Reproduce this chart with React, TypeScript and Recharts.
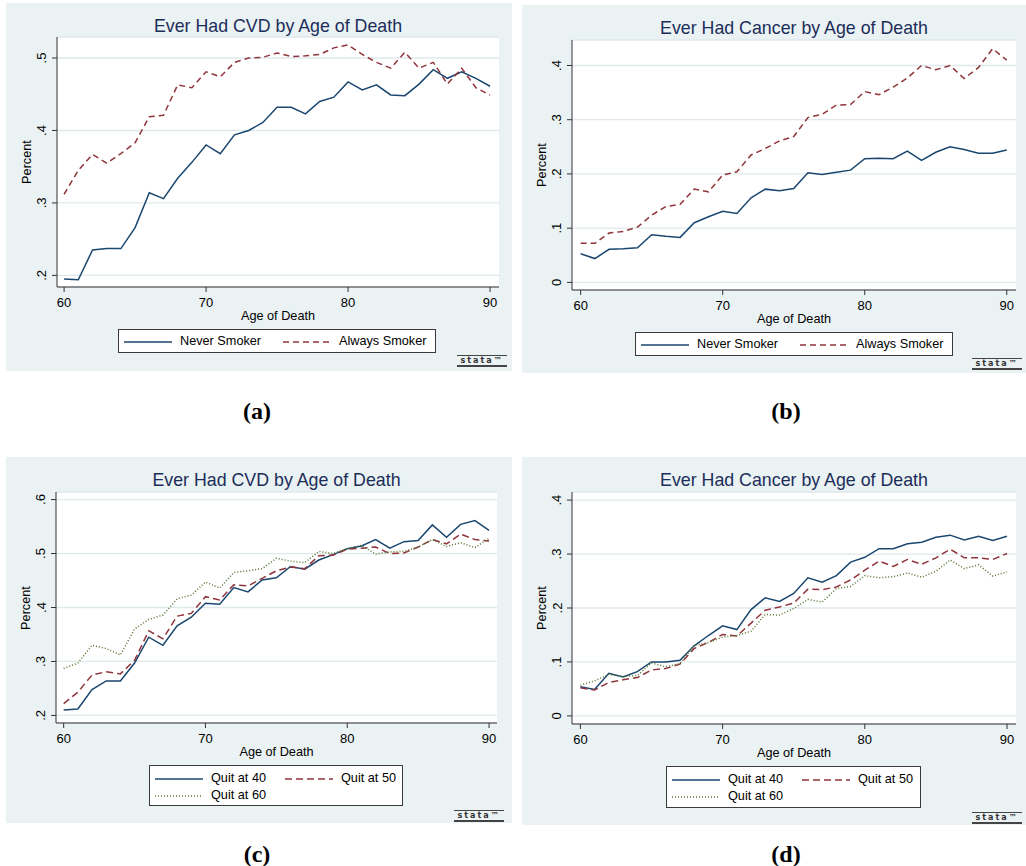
import React from 'react';
import { LineChart, Line, XAxis, YAxis, CartesianGrid } from 'recharts';

const ages = [60, 61, 62, 63, 64, 65, 66, 67, 68, 69, 70, 71, 72, 73, 74, 75, 76, 77, 78, 79, 80, 81, 82, 83, 84, 85, 86, 87, 88, 89, 90];

// (a) CVD, never vs always smoker
const cvdNever = [0.195, 0.194, 0.235, 0.237, 0.237, 0.266, 0.314, 0.306, 0.334, 0.356, 0.380, 0.368, 0.394, 0.400, 0.411, 0.432, 0.432, 0.423, 0.440, 0.446, 0.467, 0.456, 0.463, 0.449, 0.448, 0.464, 0.484, 0.472, 0.481, 0.472, 0.461];
const cvdAlways = [0.312, 0.345, 0.367, 0.355, 0.368, 0.383, 0.419, 0.421, 0.463, 0.459, 0.481, 0.474, 0.494, 0.500, 0.501, 0.507, 0.502, 0.503, 0.505, 0.514, 0.518, 0.505, 0.494, 0.486, 0.508, 0.486, 0.494, 0.464, 0.486, 0.459, 0.449];

// (b) cancer, never vs always smoker
const cancerNever = [0.053, 0.044, 0.061, 0.062, 0.064, 0.088, 0.085, 0.083, 0.110, 0.121, 0.131, 0.127, 0.156, 0.172, 0.169, 0.173, 0.202, 0.199, 0.203, 0.207, 0.228, 0.229, 0.228, 0.242, 0.225, 0.240, 0.250, 0.245, 0.238, 0.238, 0.244];
const cancerAlways = [0.072, 0.072, 0.091, 0.094, 0.102, 0.124, 0.140, 0.144, 0.172, 0.167, 0.198, 0.204, 0.235, 0.247, 0.261, 0.269, 0.304, 0.310, 0.327, 0.328, 0.352, 0.346, 0.360, 0.377, 0.400, 0.392, 0.400, 0.376, 0.396, 0.431, 0.410];

// (c) CVD by quit age
const cvdQuit40 = [0.210, 0.212, 0.248, 0.264, 0.264, 0.297, 0.345, 0.330, 0.366, 0.382, 0.408, 0.406, 0.437, 0.429, 0.451, 0.455, 0.476, 0.471, 0.488, 0.498, 0.509, 0.514, 0.526, 0.510, 0.522, 0.524, 0.553, 0.530, 0.554, 0.561, 0.543];
const cvdQuit50 = [0.222, 0.243, 0.275, 0.281, 0.277, 0.302, 0.357, 0.342, 0.384, 0.389, 0.420, 0.414, 0.442, 0.440, 0.454, 0.468, 0.475, 0.472, 0.496, 0.497, 0.508, 0.510, 0.512, 0.500, 0.501, 0.512, 0.526, 0.518, 0.536, 0.526, 0.523];
const cvdQuit60 = [0.287, 0.297, 0.330, 0.324, 0.312, 0.360, 0.378, 0.386, 0.416, 0.423, 0.447, 0.436, 0.465, 0.468, 0.472, 0.491, 0.486, 0.483, 0.504, 0.500, 0.509, 0.515, 0.499, 0.503, 0.504, 0.512, 0.526, 0.513, 0.520, 0.511, 0.528];

// (d) cancer by quit age
const cancerQuit40 = [0.054, 0.049, 0.079, 0.072, 0.082, 0.100, 0.100, 0.103, 0.130, 0.149, 0.167, 0.160, 0.197, 0.219, 0.212, 0.227, 0.256, 0.248, 0.260, 0.285, 0.294, 0.310, 0.310, 0.319, 0.322, 0.331, 0.335, 0.326, 0.333, 0.325, 0.333];
const cancerQuit50 = [0.052, 0.048, 0.062, 0.067, 0.071, 0.085, 0.088, 0.096, 0.125, 0.136, 0.151, 0.148, 0.172, 0.196, 0.202, 0.209, 0.235, 0.234, 0.239, 0.252, 0.270, 0.287, 0.277, 0.290, 0.281, 0.293, 0.309, 0.293, 0.293, 0.290, 0.301];
const cancerQuit60 = [0.057, 0.065, 0.077, 0.073, 0.075, 0.098, 0.091, 0.097, 0.131, 0.136, 0.146, 0.149, 0.157, 0.188, 0.187, 0.199, 0.216, 0.211, 0.236, 0.240, 0.260, 0.256, 0.258, 0.265, 0.257, 0.268, 0.289, 0.273, 0.280, 0.259, 0.267];

const ageTicks = [60, 70, 80, 90];
const cvdTicks = [0.2, 0.3, 0.4, 0.5];
const cancerTicks = [0, 0.1, 0.2, 0.3, 0.4];
const cvdQuitTicks = [0.2, 0.3, 0.4, 0.5, 0.6];

const NAVY = '#1a476f';
const MAROON = '#90353b';
const GREEN = '#55752f';
const BG = '#eaf2f3';
const FONT = 'Arial, "Liberation Sans", sans-serif';

const stataNum = (v: number) => (v === 0 ? '0' : String(v).replace(/^0/, ''));

function YTick(props: any) {
  const { x, y, payload } = props;
  const cx = x - 8;
  return (
    <text x={cx} y={y} transform={`rotate(-90 ${cx} ${y})`} textAnchor="middle" dominantBaseline="central"
      fontSize={13} fontFamily={FONT} fill="#000">
      {stataNum(payload.value)}
    </text>
  );
}

interface Series { key: string; name: string; values: number[]; color: string; dash?: string; }

interface PanelProps {
  left: number; top: number; width: number; height: number;
  title: string;
  series: Series[];
  yTicks: number[];
  xDomain: [number, number];
  yDomain: [number, number];
  plot: { l: number; r: number; t: number; b: number };
  legend: { left: number; top: number; width: number; height: number; col2: number; rows: number[] };
  logo: { left: number; top: number };
}

function Panel(p: PanelProps) {
  const data = ages.map((age, i) => {
    const row: any = { age };
    p.series.forEach((s) => { row[s.key] = s.values[i]; });
    return row;
  });
  const xAxisH = 30;
  return (
    <div style={{ position: 'absolute', left: p.left, top: p.top, width: p.width, height: p.height, background: BG }}>
      <div style={{ position: 'absolute', left: p.plot.l, width: p.plot.r - p.plot.l, top: 12, textAlign: 'center',
        font: `17.8px ${FONT}`, lineHeight: '22px', color: '#1c2d5a' }}>{p.title}</div>
      <LineChart width={p.width} height={p.height} data={data}
        margin={{ top: p.plot.t, right: p.width - p.plot.r, bottom: p.height - p.plot.b - xAxisH, left: 0 }}>
        <CartesianGrid vertical={false} stroke="#dfe9ec" strokeWidth={1.3} fill="#fff" />
        <XAxis type="number" dataKey="age" domain={p.xDomain} ticks={ageTicks} allowDataOverflow height={xAxisH}
          tickSize={5} tickMargin={6} axisLine={{ stroke: '#333' }} tickLine={{ stroke: '#333' }}
          tick={{ fontSize: 13, fontFamily: FONT, fill: '#000' }} />
        <YAxis type="number" domain={p.yDomain} ticks={p.yTicks} allowDataOverflow width={p.plot.l}
          tickSize={5} axisLine={{ stroke: '#333' }} tickLine={{ stroke: '#333' }} tick={<YTick />} />
        {p.series.map((s) => (
          <Line key={s.key} type="linear" dataKey={s.key} name={s.name} stroke={s.color} strokeWidth={1.5}
            strokeDasharray={s.dash} dot={false} activeDot={false} isAnimationActive={false} />
        ))}
      </LineChart>
      <div style={{ position: 'absolute', left: p.plot.l, width: p.plot.r - p.plot.l, top: p.plot.b + 21, textAlign: 'center',
        font: `12.7px ${FONT}`, lineHeight: '16px', color: '#000' }}>Age of Death</div>
      <div style={{ position: 'absolute', left: p.plot.l - 30 - 40, top: (p.plot.t + p.plot.b) / 2 - 8, width: 80, textAlign: 'center',
        font: `12.7px ${FONT}`, lineHeight: '16px', color: '#000', transform: 'rotate(-90deg)' }}>Percent</div>
      <div style={{ position: 'absolute', left: p.legend.left, top: p.legend.top, width: p.legend.width, height: p.legend.height,
        background: '#fff', border: '1px solid #3a3a3a', boxSizing: 'border-box' }}>
        {p.series.map((s, i) => {
          const cx = i % 2 === 0 ? 6 : p.legend.col2;
          const cy = p.legend.rows[Math.floor(i / 2)];
          return (
            <React.Fragment key={s.key}>
              <svg style={{ position: 'absolute', left: cx - 1, top: cy - 3 }} width={50} height={6}>
                <line x1={0} x2={48} y1={3} y2={3} stroke={s.color} strokeWidth={1.5} strokeDasharray={s.dash} />
              </svg>
              <div style={{ position: 'absolute', left: cx + 55, top: cy - 9, font: `12.7px ${FONT}`, lineHeight: '16px',
                color: '#000', whiteSpace: 'nowrap' }}>{s.name}</div>
            </React.Fragment>
          );
        })}
      </div>
      <div style={{ position: 'absolute', left: p.logo.left, top: p.logo.top, width: 50, height: 9,
        borderTop: '1px solid #444', borderBottom: '2px solid #444', font: `bold 8px "DejaVu Sans", sans-serif`,
        lineHeight: '9px', letterSpacing: 2, color: '#333', textAlign: 'center' }}>stata™</div>
    </div>
  );
}

const smokerSeries = (never: number[], always: number[]): Series[] => [
  { key: 'never', name: 'Never Smoker', values: never, color: NAVY },
  { key: 'always', name: 'Always Smoker', values: always, color: MAROON, dash: '6 4' },
];

const quitSeries = (q40: number[], q50: number[], q60: number[]): Series[] => [
  { key: 'q40', name: 'Quit at 40', values: q40, color: NAVY },
  { key: 'q50', name: 'Quit at 50', values: q50, color: MAROON, dash: '7 4' },
  { key: 'q60', name: 'Quit at 60', values: q60, color: GREEN, dash: '1 2' },
];

const captionStyle = (cx: number, cy: number): React.CSSProperties => ({
  position: 'absolute', left: cx - 40, top: cy - 10, width: 80, textAlign: 'center',
  font: 'bold 24px "Liberation Serif", "Times New Roman", serif', lineHeight: '20px', color: '#000',
});

export default function App() {
  return (
    <div style={{ position: 'absolute', left: 0, top: 0, width: 1026, height: 866, background: '#fff', overflow: 'hidden' }}>
      <Panel left={6} top={3} width={506} height={368} title="Ever Had CVD by Age of Death"
        series={smokerSeries(cvdNever, cvdAlways)} yTicks={cvdTicks}
        xDomain={[59.5, 90.63]} yDomain={[0.184, 0.529]} plot={{ l: 51, r: 493, t: 34, b: 284 }}
        legend={{ left: 112, top: 326, width: 318, height: 24, col2: 165, rows: [12] }} logo={{ left: 451, top: 352 }} />
      <Panel left={522} top={5} width={504} height={368} title="Ever Had Cancer by Age of Death"
        series={smokerSeries(cancerNever, cancerAlways)} yTicks={cancerTicks}
        xDomain={[59.39, 90.65]} yDomain={[-0.014, 0.447]} plot={{ l: 50, r: 494, t: 35, b: 285 }}
        legend={{ left: 113, top: 327, width: 318, height: 24, col2: 165, rows: [12] }} logo={{ left: 450, top: 353 }} />
      <Panel left={6} top={457} width={506} height={366} title="Ever Had CVD by Age of Death"
        series={quitSeries(cvdQuit40, cvdQuit50, cvdQuit60)} yTicks={cvdQuitTicks}
        xDomain={[59.46, 90.56]} yDomain={[0.186, 0.614]} plot={{ l: 50, r: 491, t: 35, b: 266 }}
        legend={{ left: 143, top: 308, width: 254, height: 41, col2: 136, rows: [12.5, 29.5] }} logo={{ left: 448, top: 353 }} />
      <Panel left={522} top={457} width={504} height={368} title="Ever Had Cancer by Age of Death"
        series={quitSeries(cancerQuit40, cancerQuit50, cancerQuit60)} yTicks={cancerTicks}
        xDomain={[59.41, 90.63]} yDomain={[-0.015, 0.415]} plot={{ l: 50, r: 494, t: 35, b: 267 }}
        legend={{ left: 144, top: 309, width: 255, height: 42, col2: 136, rows: [12.5, 29.5] }} logo={{ left: 450, top: 355 }} />
      <div style={captionStyle(257, 411)}>(a)</div>
      <div style={captionStyle(786, 411)}>(b)</div>
      <div style={captionStyle(257, 854)}>(c)</div>
      <div style={captionStyle(786, 854)}>(d)</div>
    </div>
  );
}
